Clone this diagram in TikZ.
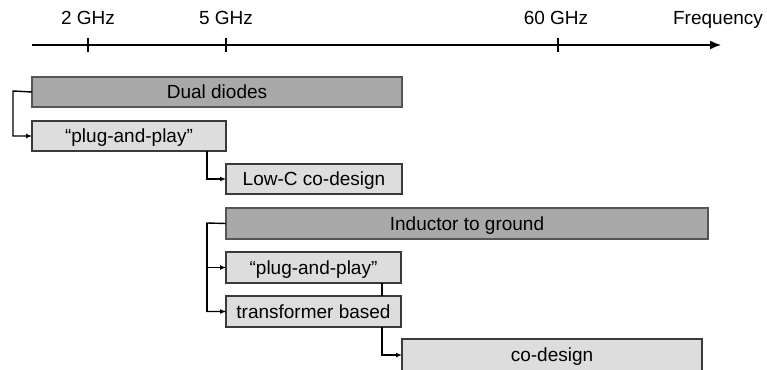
\documentclass[tikz,border=0pt]{standalone}
\usepackage{fontspec}
\setmainfont{Liberation Sans}
\usetikzlibrary{arrows.meta}
\definecolor{darkbox}{HTML}{A9A9A9}
\definecolor{lightbox}{HTML}{DDDDDD}
\definecolor{darkedge}{HTML}{555555}
\definecolor{lightedge}{HTML}{3A3A3A}
\tikzset{
  lbl/.style={font=\fontsize{19}{23}\selectfont, inner sep=0pt, anchor=base},
  boxbase/.style={rectangle, anchor=north west, inner sep=0pt, outer sep=0pt,
    line width=1.3pt, font=\fontsize{19}{23}\selectfont,
    text height=13.7pt, text depth=0pt},
  darkbx/.style={boxbase, draw=darkedge, fill=darkbox},
  lightbx/.style={boxbase, draw=lightedge, fill=lightbox},
  conn/.style={line width=1.4pt, -{Latex[length=6pt,width=5pt]}},
  plain/.style={line width=1.4pt},
  axisline/.style={line width=1.5pt, -{Latex[length=11pt,width=9pt]}},
  tick/.style={line width=1.5pt}
}
\begin{document}
\begin{tikzpicture}[x=1pt,y=-1pt]
\clip (0,0) rectangle (767,369);
% axis
\coordinate (ax0) at (32,45);
\coordinate (ax1) at (721,45);
\draw[axisline] (ax0) -- (ax1);
\coordinate (t2) at (88,45);
\coordinate (t5) at (226,45);
\coordinate (t60) at (558,45);
\draw[tick] ([yshift=-7pt]t2) -- ([yshift=7pt]t2);
\draw[tick] ([yshift=-7pt]t5) -- ([yshift=7pt]t5);
\draw[tick] ([yshift=-7pt]t60) -- ([yshift=7pt]t60);
\node[lbl] (l2) at (88,25) {2 GHz};
\node[lbl] (l5) at (226,25) {5 GHz};
\node[lbl] (l60) at (556,25) {60 GHz};
\node[lbl] (lf) at (718,25) {Frequency};
% boxes
\node[darkbx, minimum width=370pt, minimum height=30pt] (dd) at (32,77) {Dual diodes};
\node[lightbx, minimum width=194pt, minimum height=30pt] (pp1) at (32,121) {“plug-and-play”};
\node[lightbx, minimum width=176pt, minimum height=30pt] (lowc) at (226,164) {Low-C co-design};
\node[darkbx, minimum width=482pt, minimum height=31pt] (ind) at (226,208) {Inductor to ground};
\node[lightbx, minimum width=175pt, minimum height=31pt] (pp2) at (226,252) {“plug-and-play”};
\node[lightbx, minimum width=175pt, minimum height=31pt] (trans) at (226,296) {transformer based};
\node[lightbx, minimum width=300pt, minimum height=32pt] (cod) at (402,339) {co-design};
% connectors
\coordinate (j1) at (13,91);
\draw[conn] (dd.west) -- (j1) |- (pp1.west);
\draw[conn] ([xshift=-19pt]pp1.south east) |- (lowc.west);
\coordinate (j2) at (207,223);
\draw[plain] (ind.west) -- (j2) |- (trans.west);
\draw[conn] (j2) |- (pp2.west);
\draw[conn] (j2) |- (trans.west);
\draw[plain] ([xshift=-19pt]pp2.south east) -- ([xshift=-19pt]trans.north east);
\draw[conn] ([xshift=-19pt]trans.south east) |- (cod.west);
\end{tikzpicture}
\end{document}
